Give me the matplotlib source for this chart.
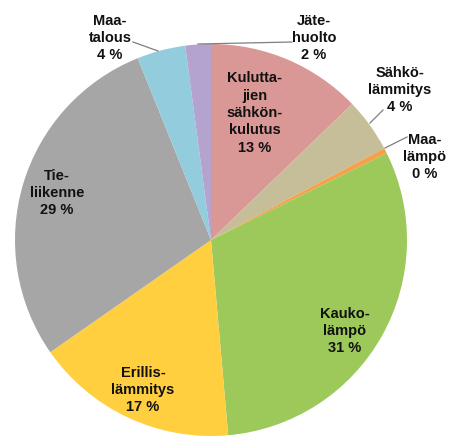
import matplotlib.pyplot as plt

# osuudet (%) myötäpäivään klo 12:sta alkaen
labels = ["Kulutta-\njien\nsähkön-\nkulutus", "Sähkö-\nlämmitys", "Maa-\nlämpö",
          "Kauko-\nlämpö", "Erillis-\nlämmitys", "Tie-\nliikenne", "Maa-\ntalous", "Jäte-\nhuolto"]
values = [12.8, 4.45, 0.45, 30.9, 16.7, 28.6, 4.0, 2.1]
colors = ["#D99795", "#C6BE98", "#F5A04A", "#9DC95B", "#FFCF40", "#A6A6A6", "#93CDDD", "#B4A3CF"]

W, H = 451, 437
cx, cy, r = 211, 240, 196

fig = plt.figure(figsize=(W / 100, H / 100), dpi=100)
ax = fig.add_axes([0, 0, 1, 1])
ax.pie(values, colors=colors, startangle=90, counterclock=False,
       center=(cx, H - cy), radius=r, wedgeprops=dict(linewidth=0))
ax.set_xlim(0, W)
ax.set_ylim(0, H)
ax.set_aspect("equal")
ax.axis("off")

# label centres and leader lines in pixel coordinates (y down)
label_pos = [(255, 113), (400, 90), (425, 157), (345, 331),
             (143, 390), (57, 193), (110, 38), (314, 38)]
leaders = {1: [(370, 123), (383, 110)], 2: [(385, 148), (407, 137)],
           6: [(133, 42), (158, 51)], 7: [(198, 44), (292, 42)]}

for i, (lab, v) in enumerate(zip(labels, values)):
    x, y = label_pos[i]
    ax.text(x, H - y, f"{lab}\n{round(v):.0f} %", ha="center", va="center",
            fontsize=10.5, fontweight="bold", family="Liberation Sans",
            linespacing=1.3, color="#111111")
    if i in leaders:
        (x0, y0), (x1, y1) = leaders[i]
        ax.plot([x0, x1], [H - y0, H - y1], color="#7F7F7F", lw=0.9)

fig.savefig("out.png", dpi=100)
